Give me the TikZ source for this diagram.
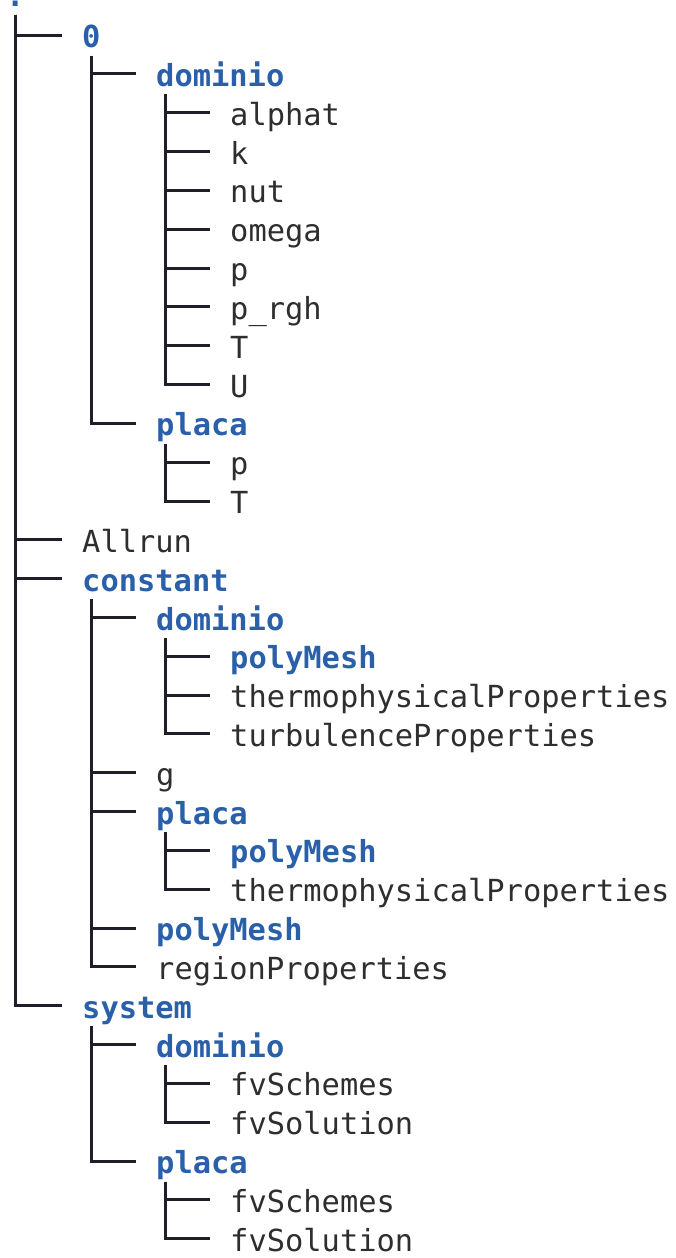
\documentclass[tikz,border=0pt]{standalone}
\usepackage{fontspec}
\newfontfamily\treefont{DejaVu Sans Mono}
\usetikzlibrary{positioning}
\definecolor{TreeBlue}{HTML}{2A5FA9}
\definecolor{TreeInk}{HTML}{2E2E2E}
\definecolor{TreeLine}{HTML}{1F1F29}
\tikzset{
  treeentry/.style={
    anchor=base west,
    inner sep=0pt,
    font=\treefont\fontsize{30.4}{36}\selectfont
  },
  treefile/.style={treeentry,text=TreeInk},
  treedir/.style={
    treeentry,
    text=TreeBlue,
    font=\treefont\fontsize{30.4}{36}\selectfont\bfseries
  },
  treebranch/.style={draw=TreeLine,line width=3pt}
}

\begin{document}
\begin{tikzpicture}[x=1pt,y=-1pt]
    \useasboundingbox (0,0) rectangle (675,1258);
    \node[treedir] (root) at (6,6.5) {.};
    % 0
    \node[treedir] (zero) at (82,47.5) {0};
    \node[treedir] (zdom) at (156,86.3) {dominio};
    \node[treefile] (zdalphat) at (230,125.2) {alphat};
    \node[treefile] (zdk) at (230,164.0) {k};
    \node[treefile] (zdnut) at (230,202.8) {nut};
    \node[treefile] (zdomega) at (230,241.7) {omega};
    \node[treefile] (zdp) at (230,280.5) {p};
    \node[treefile] (zdprgh) at (230,319.3) {p\_rgh};
    \node[treefile] (zdT) at (230,358.1) {T};
    \node[treefile] (zdU) at (230,397.0) {U};
    \node[treedir] (zpla) at (156,435.8) {placa};
    \node[treefile] (zpp) at (230,474.6) {p};
    \node[treefile] (zpT) at (230,513.5) {T};
    \node[treefile] (allrun) at (82,552.3) {Allrun};
    % constant
    \node[treedir] (const) at (82,591.1) {constant};
    \node[treedir] (cdom) at (156,630.0) {dominio};
    \node[treedir] (cdmesh) at (230,668.8) {polyMesh};
    \node[treefile] (cdthermo) at (230,707.6) {thermophysicalProperties};
    \node[treefile] (cdturb) at (230,746.4) {turbulenceProperties};
    \node[treefile] (cg) at (156,785.3) {g};
    \node[treedir] (cpla) at (156,824.1) {placa};
    \node[treedir] (cpmesh) at (230,862.9) {polyMesh};
    \node[treefile] (cpthermo) at (230,901.8) {thermophysicalProperties};
    \node[treedir] (cmesh) at (156,940.6) {polyMesh};
    \node[treefile] (cregion) at (156,979.4) {regionProperties};
    % system
    \node[treedir] (sys) at (82,1018.3) {system};
    \node[treedir] (sdom) at (156,1057.1) {dominio};
    \node[treefile] (sdschemes) at (230,1095.9) {fvSchemes};
    \node[treefile] (sdsolution) at (230,1134.7) {fvSolution};
    \node[treedir] (spla) at (156,1173.6) {placa};
    \node[treefile] (spschemes) at (230,1212.4) {fvSchemes};
    \node[treefile] (spsolution) at (230,1251.2) {fvSolution};

    \foreach \up/\kids in {
        root/{zero,allrun,const,sys},
        zero/{zdom,zpla},
        zdom/{zdalphat,zdk,zdnut,zdomega,zdp,zdprgh,zdT,zdU},
        zpla/{zpp,zpT},
        const/{cdom,cg,cpla,cmesh,cregion},
        cdom/{cdmesh,cdthermo,cdturb},
        cpla/{cpmesh,cpthermo},
        sys/{sdom,spla},
        sdom/{sdschemes,sdsolution},
        spla/{spschemes,spsolution}}
      \foreach \kid in \kids
        \draw[treebranch] ([shift={(9pt,-8pt)}]\up.base west)
          |- ([shift={(-20pt,12.5pt)}]\kid.base west);
  \end{tikzpicture}
\end{document}
